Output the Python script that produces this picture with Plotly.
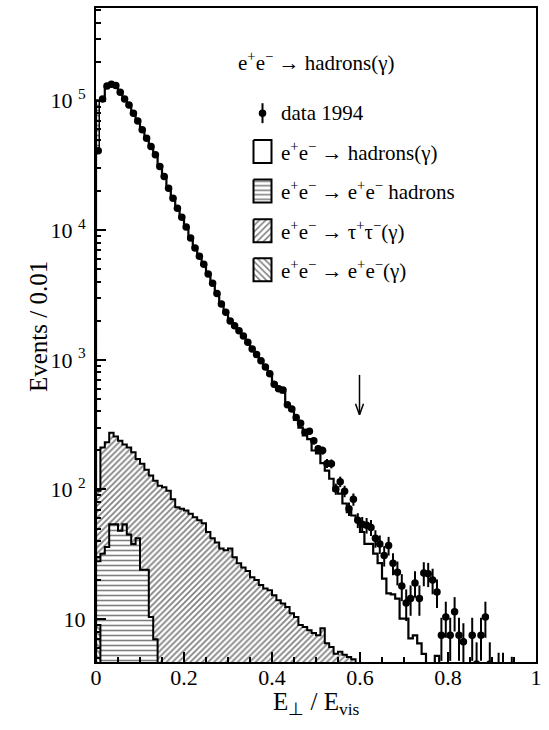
import numpy as np
import plotly.graph_objects as go

# ---------------- data (bins of 0.01 in E_perp/E_vis, 0..1) ----------------
bin_edges = np.round(np.arange(0, 1.0001, 0.01), 2)
bin_centers = np.round(bin_edges[:-1] + 0.005, 3)

data_1994 = [
    41000, 103000, 130000, 134000, 131000, 116000, 103000, 92700, 79800, 69800,
    59600, 51300, 44300, 38200, 31000, 26000, 21100, 17700, 14800, 12600,
    10600, 8700, 7300, 6300, 5470, 4600, 3910, 3250, 2700, 2330,
    1995, 1830, 1680, 1530, 1370, 1216, 1100, 983, 880, 780,
    650, 598, 585, 450, 418, 360, 324, 276, 281, 238,
    206, 200, 159, 158, 101, 115, 97, 71, 84, 58,
    54, 53, 51, 42, 38, 31, 37, 27, 23, 18,
    13.3, 14.4, 19, 14.4, 22.7, 22.4, 20, 16.2, 7.5, 10.4,
    7.5, 11.4, 7.5, 6.7, None, 7.5, 4.5, 7.5, 10.4, 4.5,
    None, 3.6, 3.6, None, 3.3, None, None, None, None, None,
]

mc_hadrons = [
    100000, 103000, 128000, 133000, 130000, 117000, 104000, 92000, 80500, 69000,
    60000, 51000, 44000, 38000, 31500, 26000, 21300, 17800, 14900, 12500,
    10600, 8800, 7400, 6300, 5400, 4600, 3900, 3260, 2720, 2320,
    2000, 1830, 1670, 1520, 1360, 1220, 1090, 980, 870, 770,
    660, 590, 560, 450, 410, 345, 300, 262, 245, 200,
    190, 160, 140, 121, 98, 93, 78, 67, 63, 58,
    47, 38, 38, 32, 27, 20.5, 15.8, 15.5, 14.4, 10.1,
    10.1, 7.1, 7.5, 6.5, 5.4, 0, 0, 5.2, 0, 0,
    0, 0, 0, 0, 0, 0, 0, 0, 0, 0,
    0, 0, 0, 0, 0, 0, 0, 0, 0, 0,
]
# low edge of the first-bin band of the hadron MC
mc_hadrons_bin0_low = 41000

mc_tautau = [
    98, 211, 231, 274, 256, 238, 222, 211, 194, 172,
    158, 142, 128, 117, 107, 104, 98, 84, 73, 71,
    69, 65, 61, 58, 55, 47, 42, 39, 35, 34,
    35, 30, 27, 25, 23.5, 21, 20, 18.3, 17.2, 16.7,
    15.3, 14, 13.2, 12.4, 11.1, 10.4, 9, 8.7, 8.2, 7.8,
    7.5, 8.5, 6.5, 6.1, 5.4, 5.6, 5.3, 5.1, 4.9, 0,
] + [0] * 40

mc_eehadrons = [
    28, 32, 36, 54, 54, 48, 54, 45, 38, 42,
    24, 24, 10.4, 7,
] + [0] * 86

mc_ee = [9] + [0] * 99

y_tickvals = [10, 100, 1000, 10000, 100000]
y_ticktext = ["10", "10 <sup>2</sup>", "10 <sup>3</sup>", "10 <sup>4</sup>", "10 <sup>5</sup>"]
x_tickvals = [0, 0.2, 0.4, 0.6, 0.8, 1]
x_ticktext = ["0", "0.2", "0.4", "0.6", "0.8", "1"]

legend_labels = [
    "data 1994",
    "e<sup>+</sup>e<sup>\u2212</sup> \u2192 hadrons(\u03b3)",
    "e<sup>+</sup>e<sup>\u2212</sup> \u2192 e<sup>+</sup>e<sup>\u2212</sup> hadrons",
    "e<sup>+</sup>e<sup>\u2212</sup> \u2192 \u03c4<sup>+</sup>\u03c4<sup>\u2212</sup>(\u03b3)",
    "e<sup>+</sup>e<sup>\u2212</sup> \u2192 e<sup>+</sup>e<sup>\u2212</sup>(\u03b3)",
]
title_text = "e<sup>+</sup>e<sup>\u2212</sup> \u2192 hadrons(\u03b3)"

FONT = "Liberation Serif, Times New Roman, serif"
W, H = 549, 730
ML, MR, MT, MB = 96, 13, 6, 68
Y_LOG_RANGE = [0.669, 5.715]
FLOOR = 0.5  # below the axis, so clipped


def step_xy(vals):
    ys = [v if v else FLOOR for v in vals]
    xs = [0.0] + list(bin_edges[:-1]) + [1.0]
    yy = [FLOOR] + ys + [ys[-1]]
    return xs, yy


def nz(vals):
    return [v if v else None for v in vals]


fig = go.Figure()

# hatched background histograms
hatch_specs = [
    (mc_tautau, "/", 4.2, 0.4),
    (mc_eehadrons, "-", 5, 0.32),
    (mc_ee, "\\", 4.2, 0.4),
]
for vals, shape, size, sol in hatch_specs:
    fig.add_trace(go.Bar(
        x=bin_centers, y=nz(vals), width=0.01,
        marker=dict(color="white", line=dict(width=0),
                    pattern=dict(shape=shape, fgcolor="black", bgcolor="white",
                                 size=size, solidity=sol, fillmode="overlay")),
        showlegend=False, hoverinfo="skip",
    ))

# first-bin band of the hadron MC
fig.add_trace(go.Bar(
    x=[bin_centers[0]], y=[mc_hadrons[0] - mc_hadrons_bin0_low], base=[mc_hadrons_bin0_low],
    width=0.01,
    marker=dict(color="white", line=dict(width=1.5, color="black"),
                pattern=dict(shape="-", fgcolor="black", bgcolor="white", size=5, solidity=0.35)),
    showlegend=False, hoverinfo="skip",
))

# outlines
for vals, lw in [(mc_tautau, 2), (mc_eehadrons, 2), (mc_ee, 2), (mc_hadrons, 2.2)]:
    xs, ys = step_xy(vals)
    fig.add_trace(go.Scatter(x=xs, y=ys, mode="lines", line=dict(shape="hv", color="black", width=lw),
                             showlegend=False, hoverinfo="skip"))

# data points
err = [np.sqrt(v) if v else None for v in data_1994]
fig.add_trace(go.Scatter(
    x=bin_centers, y=data_1994, mode="markers",
    marker=dict(color="black", size=7.5, symbol="circle"),
    error_y=dict(type="data", array=err, visible=True, color="black", thickness=2, width=0),
    showlegend=False, hoverinfo="skip",
))

# ---------- overlay pixel axes for legend decoration ----------
def px_box(x0, y0, x1, y1):
    return [x0, x1, x1, x0, x0], [y0, y0, y1, y1, y0]

box_rows = [150, 189.5, 229.5, 268.5]
box_patterns = ["", "-", "/", "\\"]
for yc, pat in zip(box_rows, box_patterns):
    bx, by = px_box(253.5, yc - 11.5, 271.5, yc + 11.5)
    kw = {}
    if pat:
        kw["fillpattern"] = dict(shape=pat, fgcolor="black", bgcolor="white", size=4.5, solidity=0.35)
    fig.add_trace(go.Scatter(x=bx, y=by, xaxis="x2", yaxis="y2", mode="lines", fill="toself",
                             fillcolor="white", line=dict(color="black", width=2),
                             showlegend=False, hoverinfo="skip", **kw))

# data legend marker
fig.add_trace(go.Scatter(x=[262.5, 262.5], y=[101.5, 121.5], xaxis="x2", yaxis="y2", mode="lines",
                         line=dict(color="black", width=2), showlegend=False, hoverinfo="skip"))
fig.add_trace(go.Scatter(x=[262.5], y=[111.5], xaxis="x2", yaxis="y2", mode="markers",
                         marker=dict(color="black", size=7.5), showlegend=False, hoverinfo="skip"))

annotations = []
annotations.append(dict(x=316, y=60, xref="x2", yref="y2", text=title_text, showarrow=False,
                        font=dict(family=FONT, size=21, color="black"), xanchor="center", yanchor="middle"))
for lab, yc in zip(legend_labels, [111.5] + box_rows):
    annotations.append(dict(x=279, y=yc, xref="x2", yref="y2", text=lab, showarrow=False,
                            font=dict(family=FONT, size=21, color="black"), xanchor="left", yanchor="middle"))

# axis titles
annotations.append(dict(x=0.5, y=-(704 - (MT + 656)) / 656, xref="paper", yref="paper",
                        text="E<sub>\u22a5</sub> / E<sub>vis</sub>", showarrow=False,
                        font=dict(family=FONT, size=25, color="black"), xanchor="center", yanchor="middle"))
annotations.append(dict(x=-(ML - 38) / 440, y=1 - (326 - MT) / 656, xref="paper", yref="paper",
                        text="Events / 0.01", showarrow=False, textangle=-90,
                        font=dict(family=FONT, size=25, color="black"), xanchor="center", yanchor="middle"))

shapes = [
    dict(type="line", xref="x2", yref="y2", x0=359.5, x1=359.5, y0=374, y1=414, line=dict(color="black", width=1.5)),
    dict(type="line", xref="x2", yref="y2", x0=355.5, x1=359.5, y0=403, y1=414, line=dict(color="black", width=1.5)),
    dict(type="line", xref="x2", yref="y2", x0=363.5, x1=359.5, y0=403, y1=414, line=dict(color="black", width=1.5)),
]

fig.update_layout(
    width=W, height=H,
    margin=dict(l=ML, r=MR, t=MT, b=MB, pad=0),
    paper_bgcolor="white", plot_bgcolor="white",
    barmode="overlay", bargap=0,
    showlegend=False,
    font=dict(family=FONT, color="black"),
    annotations=annotations, shapes=shapes,
    xaxis=dict(range=[0, 1], tickvals=x_tickvals, ticktext=x_ticktext, ticks="inside", ticklen=10,
               tickwidth=1.5, tickcolor="black", showline=True, linecolor="black", linewidth=2, mirror=True,
               showgrid=False, zeroline=False, ticklabelstandoff=-5,
               tickfont=dict(family=FONT, size=22, color="black"),
               minor=dict(dtick=0.05, ticks="inside", ticklen=5, tickwidth=1.5, tickcolor="black", showgrid=False)),
    yaxis=dict(type="log", range=Y_LOG_RANGE, tickvals=y_tickvals, ticktext=y_ticktext, ticks="inside",
               ticklen=10, tickwidth=1.5, tickcolor="black", showline=True, linecolor="black", linewidth=2,
               mirror=True, showgrid=False, zeroline=False, ticklabelstandoff=4,
               tickfont=dict(family=FONT, size=22, color="black"),
               minor=dict(tickvals=[k * 10 ** d for d in range(0, 6) for k in range(2, 10)], ticks="inside",
                          ticklen=5, tickwidth=1.5, tickcolor="black", showgrid=False)),
    xaxis2=dict(overlaying="x", range=[ML, W - MR], visible=False, fixedrange=True),
    yaxis2=dict(overlaying="y", range=[MT + 656, MT], visible=False, fixedrange=True),
)

fig.write_html("out.html")
